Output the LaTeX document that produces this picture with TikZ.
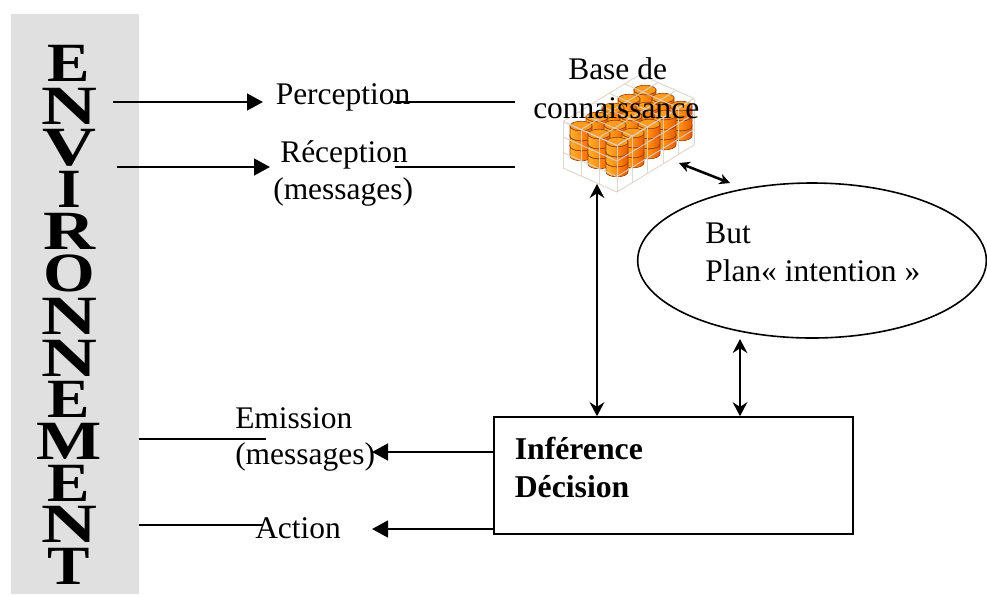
\documentclass[tikz,border=0pt]{standalone}
\usepackage{fontspec}
\setmainfont{Liberation Serif}
\usetikzlibrary{arrows.meta,shapes.geometric}
\definecolor{envgray}{HTML}{E0E0E0}
\definecolor{cylline}{HTML}{9A4208}
\definecolor{cyllight}{HTML}{FFB030}
\definecolor{cylmid}{HTML}{FF8C10}
\definecolor{cyldark}{HTML}{E85A00}
\definecolor{cyltop}{HTML}{FF9C20}
\definecolor{wire}{HTML}{DCD2C8}
\tikzset{
  x=0.75pt,y=-0.75pt,
  lbl/.style={anchor=base west,inner sep=0pt,font=\fontsize{23.6pt}{28pt}\selectfont},
  lblb/.style={lbl,font=\fontsize{23.8pt}{28pt}\selectfont\bfseries},
  envletter/.style={inner sep=0pt,font=\fontsize{41.5pt}{42pt}\selectfont\bfseries},
  conn/.style={line width=1.9pt},
  solid head/.style={conn,-{Triangle[length=12pt,width=12.5pt]}},
  both heads/.style={conn,{Stealth[length=10.5pt,width=11pt,inset=3.5pt]}-{Stealth[length=10.5pt,width=11pt,inset=3.5pt]}},
  small heads/.style={conn,{Stealth[length=8pt,width=8pt,inset=2.5pt]}-{Stealth[length=8pt,width=8pt,inset=2.5pt]}},
  wireline/.style={draw=wire,line width=0.75pt,opacity=.85}
}
\newcommand{\drumdisc}[2]{%
  \path[left color=cyllight,right color=cyldark,middle color=cylmid,draw=cylline,line width=.45pt]
    (#1-11,#2) -- (#1-11,#2+10) arc[start angle=180,end angle=360,x radius=8.25pt,y radius=3.6pt]
    -- (#1+11,#2) arc[start angle=0,end angle=180,x radius=8.25pt,y radius=-3.6pt] -- cycle;
  \path[fill=cyltop,draw=cylline,line width=.45pt] (#1,#2) ellipse[x radius=8.25pt,y radius=3.6pt];
}
\begin{document}
\begin{tikzpicture}
\useasboundingbox (0,0) rectangle (987,594);
\fill[envgray] (11,14) rectangle (139,594);
\foreach \ch/\sx/\yc [count=\n] in {E/1.15/63.5,N/1.4/106,V/1.35/148,I/1.1/189.5,R/1.3/231,O/1.2/273.5,N/1.4/316,N/1.4/358,E/1.15/399.5,M/1.25/441.5,E/1.15/483,N/1.4/524.5,T/1.15/566}
  \node[envletter] (env\n) at (69,\yc) {\scalebox{\sx}[1]{\ch}};

% drums
\foreach \i in {2,1,0}{
  \foreach \j in {4,3,2,1,0}{
    \pgfmathsetmacro{\dx}{617-18*\i+16*\j}
    \pgfmathsetmacro{\dy}{142-8*\i-9*\j}
    \drumdisc{\dx}{\dy+20}
    \drumdisc{\dx}{\dy+10}
    \drumdisc{\dx}{\dy}
  }
}
% wire cage
\foreach \k in {0,1,2,3}{
  \pgfmathsetmacro{\h}{15.5*\k}
  \draw[wireline] (563,168-\h) -- (617,192-\h) -- (694,145-\h);
}
\foreach \k in {0,1,2,3}{
  \pgfmathsetmacro{\tx}{18*\k}
  \pgfmathsetmacro{\ty}{8*\k}
  \draw[wireline] (617-\tx,145.5-\ty) -- (694-\tx,98.5-\ty);
}
\foreach \k in {0,1,2,3,4,5}{
  \pgfmathsetmacro{\tx}{15.4*\k}
  \pgfmathsetmacro{\ty}{9.4*\k}
  \draw[wireline] (563+\tx,121.5-\ty) -- (617+\tx,145.5-\ty);
  \draw[wireline] (617+\tx,192-\ty) -- (617+\tx,145.5-\ty);
}
\foreach \k in {0,1,2}{
  \pgfmathsetmacro{\tx}{18*\k}
  \pgfmathsetmacro{\ty}{8*\k}
  \draw[wireline] (563+\tx,168+\ty) -- (563+\tx,121.5+\ty);
}

% labels
\node[lbl] (perc) at (275.5,104) {Perception};
\node[lbl] (recep) at (280,162) {Réception};
\node[lbl] (recepm) at (273,199) {(messages)};
\node[lbl] (base) at (568,79) {Base de};
\node[lbl] (conn) at (533,118) {connaissance};
\node[lbl] (emis) at (235,428) {Emission};
\node[lbl] (emism) at (235,464) {(messages)};
\node[lbl] (act) at (255,538) {Action};

% shapes
\node[draw,ellipse,line width=1.2pt,minimum width=261.5pt,minimum height=116.25pt,inner sep=0pt] (goal) at (812,260.5) {};
\node[lbl] (but) at (705,243) {But};
\node[lbl] (plan) at (705,281) {Plan« intention »};
\node[draw,line width=1.2pt,minimum width=269.25pt,minimum height=87.75pt,inner sep=0pt] (box) at (673.5,475.5) {};
\node[lblb] (inf) at (514.5,459) {Inférence};
\node[lblb] (dec) at (514.5,497) {Décision};

% connector ends
\coordinate (e1) at (113,102);
\coordinate (e1t) at (263,102);
\coordinate (p1) at (393,102);
\coordinate (b1) at (515,102);
\coordinate (e2) at (117,167);
\coordinate (e2t) at (270,167);
\coordinate (p2) at (395,167);
\coordinate (b2) at (515,167);
\coordinate (emL) at (139,439);
\coordinate (emR) at (266,439);
\coordinate (acL) at (139,525);
\coordinate (acR) at (263,525);
\coordinate (emT) at (372,452);
\coordinate (acT) at (372,529);
\coordinate (dbB) at (597,184);
\coordinate (goalB) at (740,339);
\coordinate (dbG) at (679,163);
\coordinate (goalT) at (730,183);

\draw[solid head] (e1) -- (e1t);
\draw[conn] (p1) -- (b1);
\draw[solid head] (e2) -- (e2t);
\draw[conn] (p2) -- (b2);
\draw[conn] (emL) -- (emR);
\draw[conn] (acL) -- (acR);
\draw[solid head] (box.west |- emT) -- (emT);
\draw[solid head] (box.west |- acT) -- (acT);
\draw[both heads] (dbB) -- (dbB |- box.north);
\draw[both heads] (goalB) -- (goalB |- box.north);
\draw[small heads] (dbG) -- (goalT);
\end{tikzpicture}
\end{document}
